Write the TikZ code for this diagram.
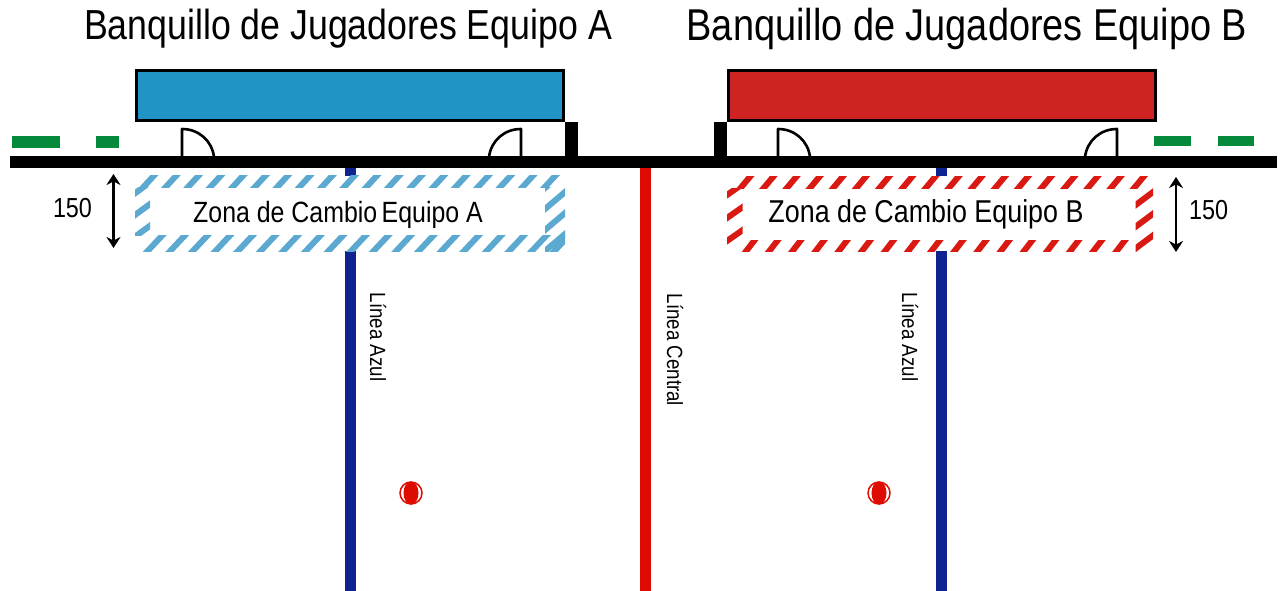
\documentclass[tikz,border=0pt]{standalone}
\usepackage{fontspec}
\setmainfont[FakeStretch=0.85]{Liberation Sans}
\usetikzlibrary{arrows.meta}
\definecolor{benchA}{HTML}{2094C4}
\definecolor{benchB}{HTML}{CF2321}
\definecolor{hatchA}{HTML}{5BA9D0}
\definecolor{hatchB}{HTML}{DA1A12}
\definecolor{lineBlue}{HTML}{0F2390}
\definecolor{lineRed}{HTML}{DE0B00}
\definecolor{markGreen}{HTML}{05893A}
\tikzset{
  bench/.style={draw=black,line width=3pt},
  solidblack/.style={fill=black,draw=none},
  door/.style={draw=black,line width=2.6pt,line join=round},
  greenmark/.style={fill=markGreen,draw=none},
  measure/.style={draw=black,line width=2.2pt,{Stealth[length=11pt,width=14pt]}-{Stealth[length=11pt,width=14pt]}},
  title/.style={font=\fontsize{42}{42}\selectfont,inner sep=0pt,anchor=center},
  titleb/.style={font=\fontsize{44.6}{44.6}\selectfont,inner sep=0pt,anchor=center},
  zone/.style={font=\fontsize{29.3}{29.3}\selectfont,inner sep=0pt,anchor=center},
  zoneb/.style={font=\fontsize{31.6}{31.6}\selectfont,inner sep=0pt,anchor=center},
  dim/.style={font=\fontsize{27.5}{27.5}\selectfont,inner sep=0pt,anchor=center},
  linelabel/.style={font=\fontsize{22}{22}\selectfont,inner sep=0pt,rotate=-90,anchor=center}
}
% horizontal band: x0,y0,x1,y1,first centre,period,last index,dx,colour
\newcommand{\hband}[9]{\begin{scope}
  \clip (#1,#2) rectangle (#3,#4);
  \foreach \k in {0,...,#7}{
    \draw[#9,line width=6pt] ({#5+\k*#6-#8},{#4+(#4-#2)}) -- ({#5+\k*#6+2*#8},{#2-(#4-#2)});
  }
\end{scope}}
% vertical band: x0,y0,x1,y1,first y at left edge,period,last index,rise,colour
\newcommand{\vband}[9]{\begin{scope}
  \clip (#1,#2) rectangle (#3,#4);
  \foreach \k in {0,...,#7}{
    \draw[#9,line width=6pt] ({#1-(#3-#1)},{#5+\k*#6+#8}) -- ({#3+(#3-#1)},{#5+\k*#6-2*#8});
  }
\end{scope}}
\begin{document}
\begin{tikzpicture}[x=1pt,y=-1pt]
\useasboundingbox[fill=white] (0,0) rectangle (1281,591);
% titles
\node[title] (titleA) at (348,29) {Banquillo de Jugadores Equipo A};
\node[titleb] (titleB) at (967,29) {Banquillo de Jugadores Equipo B};
% benches
\path[bench,fill=benchA] (136,71) rectangle (563,121);
\path[bench,fill=benchB] (728,71) rectangle (1155,121);
% doors
\draw[door] (182,157) -- (182,129) .. controls (199,129) and (212,141) .. (214,157);
\draw[door] (521,157) -- (521,129) .. controls (504,129) and (491,141) .. (489,157);
\draw[door] (778,157) -- (778,129) .. controls (795,129) and (808,141) .. (810,157);
\draw[door] (1117,157) -- (1117,129) .. controls (1100,129) and (1087,141) .. (1085,157);
% green marks
\fill[greenmark] (12,135.5) rectangle (60,148);
\fill[greenmark] (96,135.5) rectangle (119,148);
\fill[greenmark] (1154,136) rectangle (1191,146);
\fill[greenmark] (1218,136) rectangle (1254,146);
% coloured lines
\fill[lineBlue] (344.5,168) rectangle (355.5,176);
\fill[lineBlue] (344.5,251) rectangle (355.5,591);
\fill[lineBlue] (936,168) rectangle (947,176);
\fill[lineBlue] (936,251) rectangle (947,591);
\fill[lineRed] (640,168) rectangle (651,591);
% zone A hatching
\hband{135}{175}{565}{187}{143.5}{22.3}{18}{11}{hatchA}
\hband{135}{235.7}{565}{251.7}{147}{22.6}{18}{15}{hatchA}
\vband{135}{187}{150}{235.7}{193.3}{21.7}{2}{11}{hatchA}
\vband{545}{187}{565}{251.7}{188}{21}{3}{17}{hatchA}
% zone B hatching
\hband{727}{176}{1153}{188}{740.6}{23.15}{17}{10}{hatchB}
\hband{727}{240}{1153}{251.7}{745.7}{23.15}{16}{9}{hatchB}
\vband{727}{188}{742.7}{251.7}{195}{23}{2}{11}{hatchB}
\vband{1135.7}{188}{1153}{251.7}{205}{21.7}{2}{13}{hatchB}
% main wall and posts
\fill[solidblack] (10,156) rectangle (1277,168);
\fill[solidblack] (565,122) rectangle (578,156);
\fill[solidblack] (714,122) rectangle (727,156);
% measures
\coordinate (mAtop) at (113.5,174);
\coordinate (mAbot) at (113.5,248);
\coordinate (mBtop) at (1176,177);
\coordinate (mBbot) at (1176,252);
\draw[measure] (mAtop) -- (mAbot);
\draw[measure] (mBtop) -- (mBbot);
% labels
\node[dim] (dimA) at (72.5,208) {150};
\node[dim] (dimB) at (1208.5,210.5) {150};
\node[zone] (zoneA) at (338,214.5) {Zona de Cambio\hspace{-2.5pt} Equipo A};
\node[zoneb] (zoneB) at (926,214.5) {Zona de Cambio Equipo B};
\node[linelabel] (azulA) at (378,337) {Línea Azul};
\node[linelabel] (central) at (675,350) {Línea Central};
\node[linelabel] (azulB) at (910,337) {Línea Azul};
% pucks
\draw[lineRed,line width=1.5pt] (411,493) circle (11);
\fill[lineRed] (411,493) ellipse (7.5 and 11.5);
\draw[lineRed,line width=1.5pt] (879,493) circle (11);
\fill[lineRed] (879,493) ellipse (7.5 and 11.5);
\end{tikzpicture}
\end{document}
